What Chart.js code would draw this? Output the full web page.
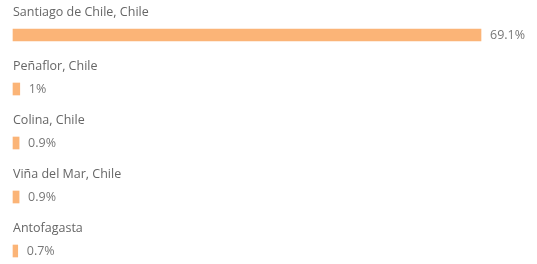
<!DOCTYPE html>
<html>
<head>
<meta charset="utf-8">
<script src="https://cdn.jsdelivr.net/npm/chart.js@4"></script>
<style>
    html, body { margin: 0; padding: 0; background: #fff; }
    #wrap { width: 537px; height: 264px; position: relative; }
</style>
</head>
<body>
<div id="wrap"><canvas id="cities"></canvas></div>
<script>
// Dati
const cities = ['Santiago de Chile, Chile', 'Peñaflor, Chile', 'Colina, Chile', 'Viña del Mar, Chile', 'Antofagasta'];
const shares = [69.1, 1, 0.9, 0.9, 0.7];
const shareLabels = ['69.1%', '1%', '0.9%', '0.9%', '0.7%'];

const barColor = '#fbb477';
const fontFamily = '"Open Sans", "Noto Sans", sans-serif';

// Etichette: nome sopra la barra, percentuale a destra
const rowLabels = {
    id: 'rowLabels',
    afterDatasetsDraw(chart) {
        const ctx = chart.ctx;
        const meta = chart.getDatasetMeta(0);
        ctx.save();
        ctx.textBaseline = 'middle';
        ctx.textAlign = 'left';
        meta.data.forEach((bar, i) => {
            ctx.font = '12.5px ' + fontFamily;
            ctx.fillStyle = '#666666';
            ctx.fillText(cities[i], chart.chartArea.left, bar.y - 23);
            ctx.font = '12.5px ' + fontFamily;
            ctx.fillStyle = '#777777';
            ctx.fillText(shareLabels[i], bar.x + 9, bar.y);
        });
        ctx.restore();
    }
};

new Chart(document.getElementById('cities'), {
    type: 'bar',
    data: {
        labels: cities,
        datasets: [{
            data: shares,
            backgroundColor: barColor,
            borderWidth: 0,
            barThickness: 12,
            clip: false
        }]
    },
    options: {
        indexAxis: 'y',
        responsive: true,
        maintainAspectRatio: false,
        animation: false,
        layout: { padding: { top: 35, bottom: 13, left: 13, right: 56 } },
        plugins: {
            legend: { display: false },
            tooltip: { enabled: false }
        },
        scales: {
            x: {
                display: false,
                min: 0,
                max: Math.max(...shares)
            },
            y: {
                display: false,
                offset: false
            }
        }
    },
    plugins: [rowLabels]
});
</script>
</body>
</html>
